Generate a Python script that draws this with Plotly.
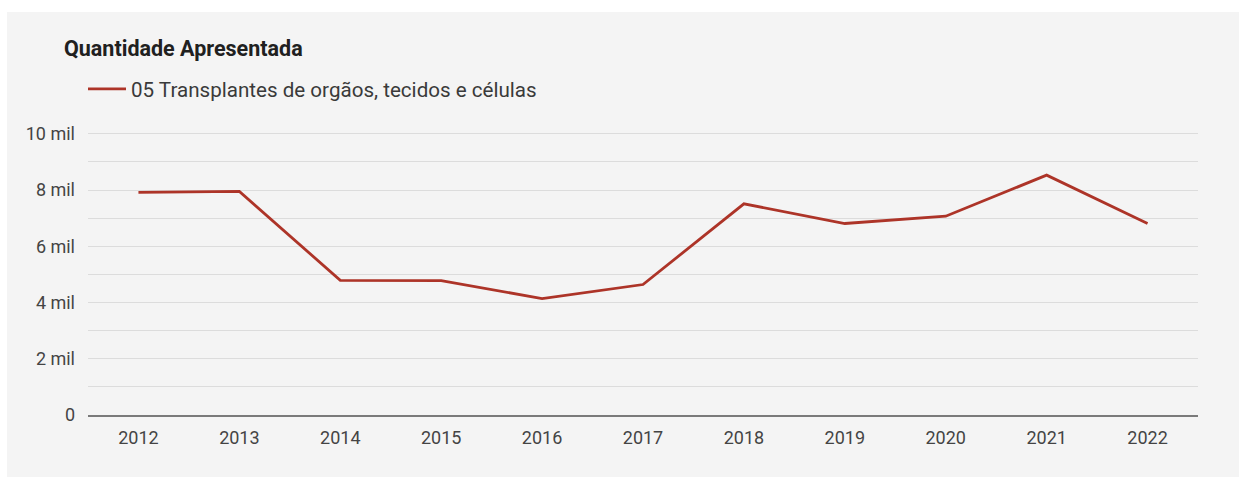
import plotly.graph_objects as go

# Annual quantity presented
anos = ["2012", "2013", "2014", "2015", "2016", "2017", "2018", "2019", "2020", "2021", "2022"]
quantidade = [7920, 7950, 4790, 4780, 4140, 4640, 7510, 6810, 7070, 8530, 6810]
serie_nome = "05 Transplantes de orgãos, tecidos e células"

y_ticks = [0, 2000, 4000, 6000, 8000, 10000]
y_labels = ["0", "2 mil", "4 mil", "6 mil", "8 mil", "10 mil"]

W, H = 1239, 477
ML, MR, MT, MB = 88, 41, 131, 62
PW, PH = W - ML - MR, H - MT - MB

def px_x(p):
    return (p - ML) / PW

def px_y(p):
    return (H - MB - p) / PH

BG = "#f4f4f4"

fig = go.Figure()
fig.add_trace(go.Scatter(
    x=anos, y=quantidade, mode="lines", name=serie_nome,
    line=dict(color="#ad3428", width=2.8),
))

fig.update_layout(
    width=W, height=H,
    margin=dict(l=ML, r=MR, t=MT, b=MB),
    paper_bgcolor=BG, plot_bgcolor=BG,
    font=dict(family="Roboto, sans-serif", color="#444", size=18),
    showlegend=True,
    legend=dict(
        orientation="h", x=px_x(83), y=px_y(89), xanchor="left", yanchor="middle",
        font=dict(size=20.6, color="#3a3a3a"), bgcolor="rgba(0,0,0,0)",
        itemwidth=38,
    ),
    xaxis=dict(
        type="category", range=[-0.5, len(anos) - 0.5],
        showgrid=False, showline=True, linecolor="#7a7a7a", linewidth=2,
        ticks="", tickfont=dict(size=18, color="#444"),
        ticklabelstandoff=5,
        fixedrange=True,
    ),
    yaxis=dict(
        range=[0, 10100], tickvals=y_ticks, ticktext=y_labels,
        showgrid=True, gridcolor="#dcdcdc", gridwidth=1,
        minor=dict(dtick=1000, tick0=0, showgrid=True, gridcolor="#dcdcdc", gridwidth=1),
        zeroline=False, ticks="", ticklabelstandoff=12,
        tickfont=dict(size=18, color="#444"),
        fixedrange=True,
    ),
    shapes=[
        dict(type="rect", xref="paper", yref="paper",
             x0=px_x(0), x1=px_x(W), y0=px_y(0), y1=px_y(12),
             fillcolor="white", line=dict(width=0), layer="above"),
        dict(type="rect", xref="paper", yref="paper",
             x0=px_x(0), x1=px_x(7), y0=px_y(0), y1=px_y(H),
             fillcolor="white", line=dict(width=0), layer="above"),
    ],
    annotations=[
        dict(text="<b>Quantidade Apresentada</b>", xref="paper", yref="paper",
             x=px_x(62), y=px_y(48), xanchor="left", yanchor="middle",
             showarrow=False, font=dict(size=21.5, color="#202020")),
    ],
)

fig.write_html("out.html")
